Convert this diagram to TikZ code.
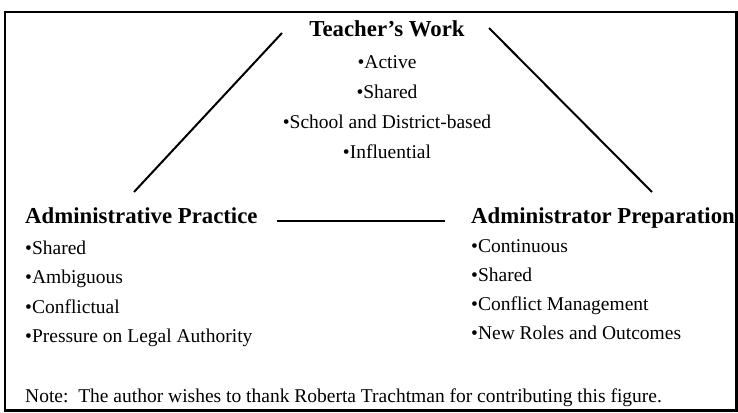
\documentclass[tikz,border=0pt]{standalone}
\usepackage{fontspec}
\setmainfont{Liberation Serif}
\usetikzlibrary{positioning}

\tikzset{
  head/.style={font=\fontsize{22.8}{27}\selectfont\bfseries, inner sep=0pt, anchor=base west},
  item/.style={font=\fontsize{19.5}{23}\selectfont, inner sep=0pt, anchor=base west},
  link/.style={line width=2pt},
}

\begin{document}
\begin{tikzpicture}[x=1pt, y=-1pt]
  \useasboundingbox (0,0) rectangle (738,412);
  \draw [line width=2.5pt] (5,12) rectangle (736.5,410.5);

  % top corner
  \node [head, anchor=base] (tw) at (387,37) {Teacher's Work};
  \node [item, anchor=base] (tw1) at (387,68) {•Active};
  \node [item, anchor=base] (tw2) at (387,98) {•Shared};
  \node [item, anchor=base] (tw3) at (387,128) {•School and District-based};
  \node [item, anchor=base] (tw4) at (387,158) {•Influential};

  % left corner
  \node [head] (ap) at (25,223) {Administrative Practice};
  \node [item] (ap1) at (25,254) {•Shared};
  \node [item] (ap2) at (25,283) {•Ambiguous};
  \node [item] (ap3) at (25,313) {•Conflictual};
  \node [item] (ap4) at (25,342) {•Pressure on Legal Authority};

  % right corner
  \node [head] (pr) at (471,223) {Administrator Preparation};
  \node [item] (pr1) at (471,252) {•Continuous};
  \node [item] (pr2) at (471,281) {•Shared};
  \node [item] (pr3) at (471,310) {•Conflict Management};
  \node [item] (pr4) at (471,339) {•New Roles and Outcomes};

  \node [item] (note) at (25,402) {Note:\ \ The author wishes to thank Roberta Trachtman for contributing this figure.};

  % sides of the triangle
  \coordinate (tl) at (282,33);
  \coordinate (tr) at (489,28);
  \coordinate (bl) at (134,192);
  \coordinate (br) at (652,192);
  \coordinate (ml) at (277,221);
  \coordinate (mr) at (445,221);
  \draw [link] (tl) -- (bl);
  \draw [link] (tr) -- (br);
  \draw [link] (ml) -- (mr);
\end{tikzpicture}
\end{document}
